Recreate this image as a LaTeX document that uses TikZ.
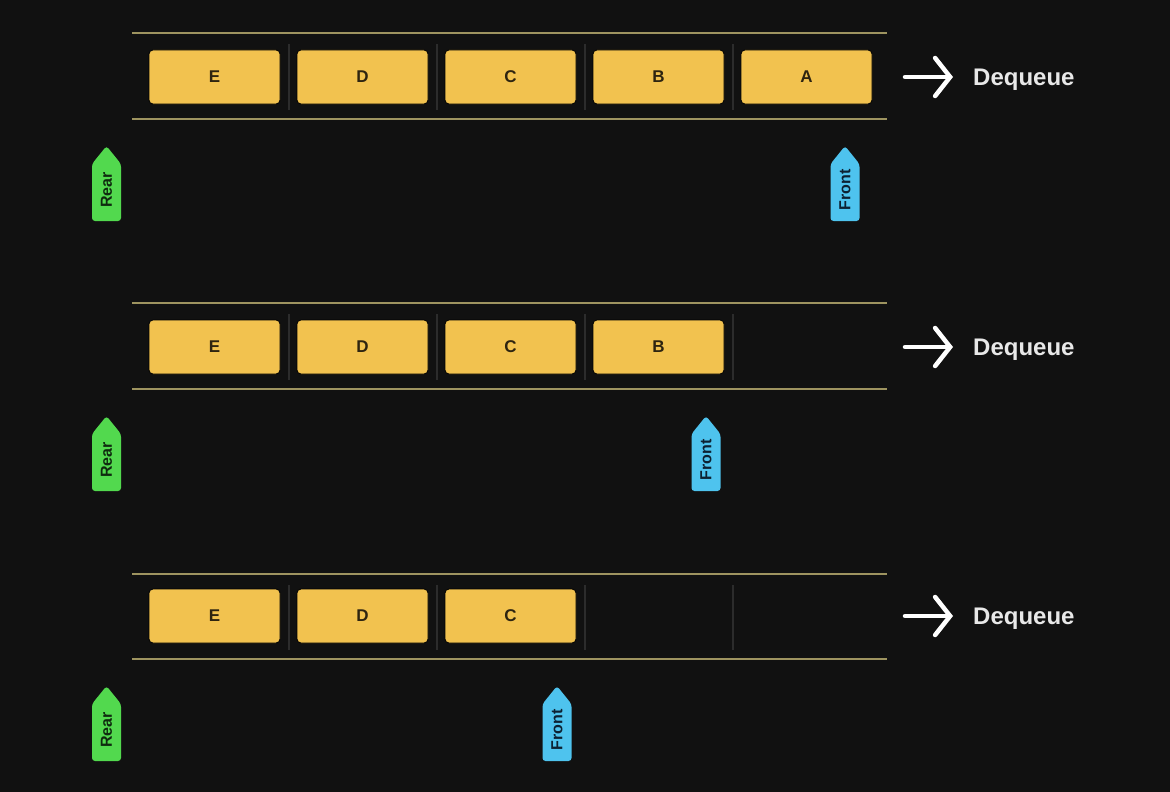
\documentclass[tikz,border=0pt]{standalone}
\usepackage{fontspec}
\setmainfont{Liberation Sans}
\usetikzlibrary{arrows.meta}
\definecolor{bg}{HTML}{111111}
\definecolor{boxy}{HTML}{F2C24F}
\definecolor{celltxt}{HTML}{2E2410}
\definecolor{railc}{HTML}{9E9460}
\definecolor{sepc}{HTML}{2C2C2C}
\definecolor{reargreen}{HTML}{52D94E}
\definecolor{frontblue}{HTML}{4EC3EE}
\definecolor{reartxt}{HTML}{0F2A0F}
\definecolor{fronttxt}{HTML}{0D2233}
\definecolor{deqtxt}{HTML}{E8E8E8}
\tikzset{
  cell/.style={fill=boxy, draw=black, line width=0.8pt, rounded corners=4pt,
    minimum width=131pt, minimum height=54pt, inner sep=0pt,
    font=\fontsize{17}{17}\selectfont\bfseries, text=celltxt},
  rail/.style={draw=railc, line width=2.5pt},
  sepline/.style={draw=sepc, line width=2pt},
  deq/.style={font=\fontsize{24}{24}\selectfont\bfseries, text=deqtxt, anchor=base west, inner sep=0pt},
  darrow/.style={draw=white, line width=4.5pt, line cap=round,
    -{Straight Barb[length=15pt,width=38pt,line cap=round]}},
  tagtext/.style={rotate=90, font=\fontsize{16}{16}\selectfont\bfseries, inner sep=0pt},
}
\newcommand\tagshape[3]{%
  \fill[#3, rounded corners=3pt] (#1-14.5,#2+75) -- (#1-14.5,#2+18) -- (#1,#2) -- (#1+14.5,#2+18) -- (#1+14.5,#2+75) -- cycle;}
\begin{document}
\begin{tikzpicture}[x=1pt,y=-1pt]
\useasboundingbox (0,0) rectangle (1170,792);
\fill[bg] (0,0) rectangle (1170,792);
\foreach \r/\t/\b/\c/\fx/\tip/\lst in {1/33/119/77/845/146/{E,D,C,B,A},2/303/389/347/706/416/{E,D,C,B},3/574/659/616/557/686/{E,D,C}}{
  \draw[rail] (132,\t) -- (887,\t);
  \draw[rail] (132,\b) -- (887,\b);
  \foreach \sx in {289,437,585,733} \draw[sepline] (\sx,\t+11) -- (\sx,\b-9);
  \foreach \l [count=\i] in \lst {
    \node[cell] (cell\r\l) at ({214.5+148*(\i-1)},\c) {\l};
  }
  \node[deq] (deq\r) at (973,\c+8.5) {Dequeue};
  \coordinate (as\r) at (905,\c);
  \coordinate (ae\r) at (953,\c);
  \draw[darrow] (as\r) -- (ae\r);
  \tagshape{106.5}{\tip}{reargreen}
  \node[tagtext, text=reartxt] (rear\r) at (106.5,\tip+44) {Rear};
  \tagshape{\fx}{\tip}{frontblue}
  \node[tagtext, text=fronttxt] (front\r) at (\fx,\tip+44) {Front};
}
\end{tikzpicture}
\end{document}
